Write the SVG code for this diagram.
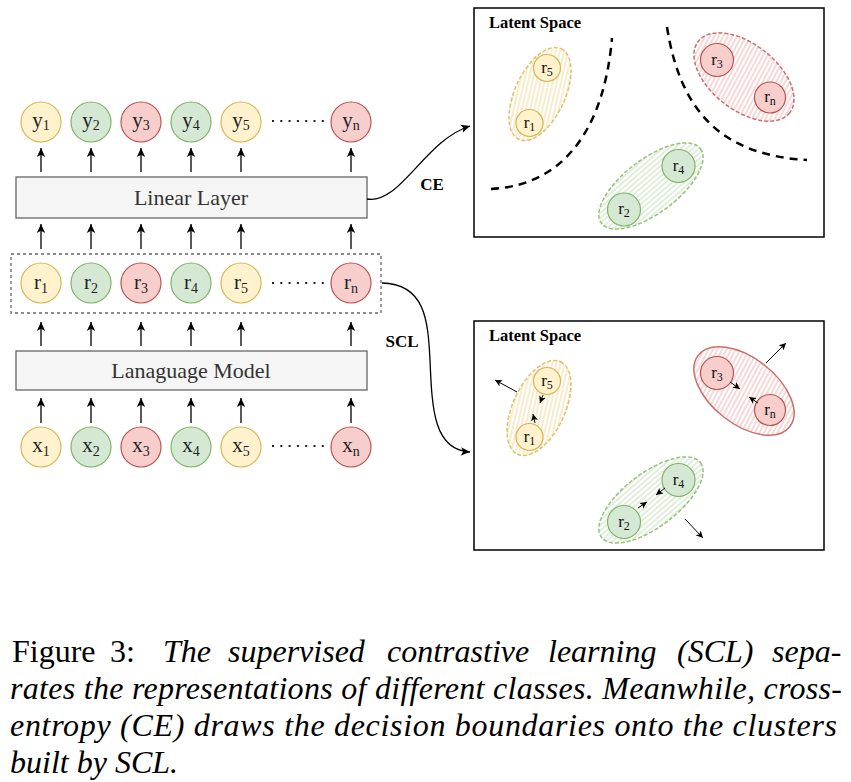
<svg xmlns="http://www.w3.org/2000/svg" width="851" height="782" viewBox="0 0 851 782">
<style>
.lbl{font-family:"Liberation Serif","Times New Roman",serif;font-size:21px;fill:#222;text-anchor:middle}
.sub{font-size:14px}
.slbl{font-family:"Liberation Serif","Times New Roman",serif;font-size:17px;fill:#111;text-anchor:middle}
.ssub{font-size:12px}
.yel{fill:#fff2cc;stroke:#d6b656;stroke-width:1.2}
.grn{fill:#d5e8d4;stroke:#82b366;stroke-width:1.2}
.red{fill:#f8cecc;stroke:#b85450;stroke-width:1.2}
.box{fill:#f5f5f5;stroke:#666;stroke-width:1.3}
.boxt{font-family:"Liberation Serif","Times New Roman",serif;font-size:22px;fill:#333;text-anchor:middle}
.arr{stroke:#000;stroke-width:1.3;fill:none;marker-end:url(#ah)}
.sarr{stroke:#000;stroke-width:1;fill:none;marker-end:url(#sah)}
.dots{stroke:#222;stroke-width:2;stroke-dasharray:2 6.3;fill:none}
.bold{font-family:"Liberation Serif","Times New Roman",serif;font-weight:bold;fill:#000}
.bnd{stroke:#000;stroke-width:2.5;stroke-dasharray:8 6;fill:none}
.cap{font-family:"Liberation Serif","Times New Roman",serif;font-size:32px;fill:#000}
.it{font-style:italic}
</style>
<defs>
<marker id="ah" markerWidth="10" markerHeight="10" refX="9" refY="5" orient="auto" markerUnits="userSpaceOnUse">
<path d="M0,0.8 L9,5 L0,9.2 L2.2,5 Z" fill="#000"/>
</marker>
<marker id="sah" markerWidth="8" markerHeight="8" refX="7" refY="4" orient="auto" markerUnits="userSpaceOnUse">
<path d="M0,0.5 L7,4 L0,7.5 L1.8,4 Z" fill="#000"/>
</marker>
<pattern id="hy" patternUnits="userSpaceOnUse" width="4" height="4" patternTransform="rotate(-12)">
<line x1="0" y1="2" x2="4" y2="2" stroke="#f3d995" stroke-width="1"/>
</pattern>
<pattern id="hr" patternUnits="userSpaceOnUse" width="4" height="4" patternTransform="rotate(80)">
<line x1="0" y1="2" x2="4" y2="2" stroke="#eeb3b0" stroke-width="1"/>
</pattern>
<pattern id="hg" patternUnits="userSpaceOnUse" width="4" height="4" patternTransform="rotate(-4)">
<line x1="0" y1="2" x2="4" y2="2" stroke="#c2dcb8" stroke-width="1"/>
</pattern>
</defs>

<!-- left column boxes -->
<g id="linear-layer">
<rect class="box" x="16" y="177" width="351" height="41"/>
<text class="boxt" x="191" y="205">Linear Layer</text>
</g>
<g id="language-model">
<rect class="box" x="16" y="351" width="351" height="39"/>
<text class="boxt" x="191" y="378">Lanaguage Model</text>
</g>
<g id="repr-group">
<rect x="11" y="254" width="370" height="59" fill="none" stroke="#666" stroke-width="1.3" stroke-dasharray="3 3"/>
</g>

<!-- y nodes -->
<g id="y1"><circle class="yel" cx="41" cy="122" r="20"/><text class="lbl" x="41" y="127">y<tspan class="sub" dy="3">1</tspan></text></g>
<g id="y2"><circle class="grn" cx="91" cy="122" r="20"/><text class="lbl" x="91" y="127">y<tspan class="sub" dy="3">2</tspan></text></g>
<g id="y3"><circle class="red" cx="141" cy="122" r="20"/><text class="lbl" x="141" y="127">y<tspan class="sub" dy="3">3</tspan></text></g>
<g id="y4"><circle class="grn" cx="191" cy="122" r="20"/><text class="lbl" x="191" y="127">y<tspan class="sub" dy="3">4</tspan></text></g>
<g id="y5"><circle class="yel" cx="241" cy="122" r="20"/><text class="lbl" x="241" y="127">y<tspan class="sub" dy="3">5</tspan></text></g>
<g id="yn"><circle class="red" cx="351" cy="122" r="20"/><text class="lbl" x="351" y="127">y<tspan class="sub" dy="3">n</tspan></text></g>

<!-- r nodes -->
<g id="r1"><circle class="yel" cx="41" cy="283" r="20"/><text class="lbl" x="41" y="289">r<tspan class="sub" dy="4">1</tspan></text></g>
<g id="r2"><circle class="grn" cx="91" cy="283" r="20"/><text class="lbl" x="91" y="289">r<tspan class="sub" dy="4">2</tspan></text></g>
<g id="r3"><circle class="red" cx="141" cy="283" r="20"/><text class="lbl" x="141" y="289">r<tspan class="sub" dy="4">3</tspan></text></g>
<g id="r4"><circle class="grn" cx="191" cy="283" r="20"/><text class="lbl" x="191" y="289">r<tspan class="sub" dy="4">4</tspan></text></g>
<g id="r5"><circle class="yel" cx="241" cy="283" r="20"/><text class="lbl" x="241" y="289">r<tspan class="sub" dy="4">5</tspan></text></g>
<g id="rn"><circle class="red" cx="351" cy="283" r="20"/><text class="lbl" x="351" y="289">r<tspan class="sub" dy="4">n</tspan></text></g>

<!-- x nodes -->
<g id="x1"><circle class="yel" cx="41" cy="447" r="20"/><text class="lbl" x="41" y="452">x<tspan class="sub" dy="4">1</tspan></text></g>
<g id="x2"><circle class="grn" cx="91" cy="447" r="20"/><text class="lbl" x="91" y="452">x<tspan class="sub" dy="4">2</tspan></text></g>
<g id="x3"><circle class="red" cx="141" cy="447" r="20"/><text class="lbl" x="141" y="452">x<tspan class="sub" dy="4">3</tspan></text></g>
<g id="x4"><circle class="grn" cx="191" cy="447" r="20"/><text class="lbl" x="191" y="452">x<tspan class="sub" dy="4">4</tspan></text></g>
<g id="x5"><circle class="yel" cx="241" cy="447" r="20"/><text class="lbl" x="241" y="452">x<tspan class="sub" dy="4">5</tspan></text></g>
<g id="xn"><circle class="red" cx="351" cy="447" r="20"/><text class="lbl" x="351" y="452">x<tspan class="sub" dy="4">n</tspan></text></g>

<g id="ellipses-dots">
<line class="dots" x1="272" y1="121" x2="324" y2="121"/>
<line class="dots" x1="272" y1="283" x2="324" y2="283"/>
<line class="dots" x1="272" y1="446" x2="324" y2="446"/>
</g>

<!-- connectors -->
<g id="connectors">
<g id="vertical-arrows">
<line class="arr" x1="41" y1="172" x2="41" y2="148"/>
<line class="arr" x1="91" y1="172" x2="91" y2="148"/>
<line class="arr" x1="141" y1="172" x2="141" y2="148"/>
<line class="arr" x1="191" y1="172" x2="191" y2="148"/>
<line class="arr" x1="241" y1="172" x2="241" y2="148"/>
<line class="arr" x1="351" y1="172" x2="351" y2="148"/>

<line class="arr" x1="41" y1="249" x2="41" y2="224"/>
<line class="arr" x1="91" y1="249" x2="91" y2="224"/>
<line class="arr" x1="141" y1="249" x2="141" y2="224"/>
<line class="arr" x1="191" y1="249" x2="191" y2="224"/>
<line class="arr" x1="241" y1="249" x2="241" y2="224"/>
<line class="arr" x1="351" y1="249" x2="351" y2="224"/>

<line class="arr" x1="41" y1="346" x2="41" y2="322"/>
<line class="arr" x1="91" y1="346" x2="91" y2="322"/>
<line class="arr" x1="141" y1="346" x2="141" y2="322"/>
<line class="arr" x1="191" y1="346" x2="191" y2="322"/>
<line class="arr" x1="241" y1="346" x2="241" y2="322"/>
<line class="arr" x1="351" y1="346" x2="351" y2="322"/>

<line class="arr" x1="41" y1="423" x2="41" y2="398"/>
<line class="arr" x1="91" y1="423" x2="91" y2="398"/>
<line class="arr" x1="141" y1="423" x2="141" y2="398"/>
<line class="arr" x1="191" y1="423" x2="191" y2="398"/>
<line class="arr" x1="241" y1="423" x2="241" y2="398"/>
<line class="arr" x1="351" y1="423" x2="351" y2="398"/>
</g>
<path id="ce-edge" class="arr" d="M367,199 C400,205 425,140 470,126"/>
<text class="bold" x="432" y="190" font-size="17" text-anchor="middle">CE</text>
<path id="scl-edge" class="arr" d="M382,283 C425,284 428,320 430,360 C432,410 434,450 470,452"/>
<text class="bold" x="402" y="347" font-size="17" text-anchor="middle">SCL</text>
</g>

<!-- top latent space -->
<g id="latent-ce">
<rect x="474" y="8" width="350" height="229" fill="#fff" stroke="#000" stroke-width="1.5"/>
<text class="bold" x="489" y="28" font-size="16.5">Latent Space</text>
<path class="bnd" d="M491,189 C570,185 605,120 612,38"/>
<path class="bnd" d="M667,27 C680,110 720,155 807,160"/>
<g id="ce-cluster-yellow">
<ellipse cx="540" cy="94" rx="50" ry="25" transform="rotate(-65 540 94)" fill="url(#hy)" stroke="#e0c06a" stroke-width="1.5" stroke-dasharray="4 2"/>
<circle class="yel" cx="547" cy="68" r="13.5"/><text class="slbl" x="547" y="73">r<tspan class="ssub" dy="3">5</tspan></text>
<circle class="yel" cx="529.5" cy="123" r="13.5"/><text class="slbl" x="529.5" y="128">r<tspan class="ssub" dy="3">1</tspan></text>
</g>
<g id="ce-cluster-red">
<ellipse cx="744" cy="77" rx="58" ry="33" transform="rotate(38 744 77)" fill="url(#hr)" stroke="#c7716d" stroke-width="1.5" stroke-dasharray="4 2"/>
<circle class="red" cx="717" cy="60" r="16.5"/><text class="slbl" x="717" y="65">r<tspan class="ssub" dy="3">3</tspan></text>
<circle class="red" cx="770" cy="97.5" r="15.5"/><text class="slbl" x="770" y="102">r<tspan class="ssub" dy="3">n</tspan></text>
</g>
<g id="ce-cluster-green">
<ellipse cx="651" cy="186" rx="62" ry="27" transform="rotate(-37 651 186)" fill="url(#hg)" stroke="#97c27c" stroke-width="1.5" stroke-dasharray="4 2"/>
<circle class="grn" cx="678.5" cy="166" r="16.5"/><text class="slbl" x="678.5" y="171">r<tspan class="ssub" dy="3">4</tspan></text>
<circle class="grn" cx="624" cy="209.5" r="16.5"/><text class="slbl" x="624" y="214">r<tspan class="ssub" dy="3">2</tspan></text>
</g>
</g>

<!-- bottom latent space -->
<g id="latent-scl">
<rect x="474" y="321" width="350" height="229" fill="#fff" stroke="#000" stroke-width="1.5"/>
<text class="bold" x="489" y="341" font-size="16.5">Latent Space</text>
<g id="scl-cluster-yellow">
<ellipse cx="539" cy="408" rx="51" ry="26" transform="rotate(-65 539 408)" fill="url(#hy)" stroke="#e0c06a" stroke-width="1.5" stroke-dasharray="4 2"/>
<circle class="yel" cx="547" cy="381" r="13.5"/><text class="slbl" x="547" y="386">r<tspan class="ssub" dy="3">5</tspan></text>
<circle class="yel" cx="529.5" cy="437" r="13.5"/><text class="slbl" x="529.5" y="442">r<tspan class="ssub" dy="3">1</tspan></text>
<line class="sarr" x1="543" y1="395" x2="540" y2="403"/>
<line class="sarr" x1="535" y1="423" x2="533" y2="414"/>
<line class="sarr" x1="517" y1="392" x2="495" y2="380"/>
</g>
<g id="scl-cluster-red">
<ellipse cx="744" cy="391" rx="58" ry="33" transform="rotate(38 744 391)" fill="url(#hr)" stroke="#c7716d" stroke-width="1.5"/>
<circle class="red" cx="717" cy="373" r="16.5"/><text class="slbl" x="717" y="378">r<tspan class="ssub" dy="3">3</tspan></text>
<circle class="red" cx="770" cy="410" r="15.5"/><text class="slbl" x="770" y="415">r<tspan class="ssub" dy="3">n</tspan></text>
<line class="sarr" x1="730" y1="382" x2="740" y2="389"/>
<line class="sarr" x1="758" y1="403" x2="749" y2="397"/>
<line class="sarr" x1="766" y1="363" x2="786" y2="343"/>
</g>
<g id="scl-cluster-green">
<ellipse cx="651" cy="500" rx="62" ry="27" transform="rotate(-37 651 500)" fill="url(#hg)" stroke="#97c27c" stroke-width="1.5" stroke-dasharray="4 2"/>
<circle class="grn" cx="678.5" cy="480" r="16.5"/><text class="slbl" x="678.5" y="485">r<tspan class="ssub" dy="3">4</tspan></text>
<circle class="grn" cx="624" cy="522" r="16.5"/><text class="slbl" x="624" y="527">r<tspan class="ssub" dy="3">2</tspan></text>
<line class="sarr" x1="665" y1="488" x2="656" y2="495"/>
<line class="sarr" x1="638" y1="508" x2="647" y2="502"/>
<line class="sarr" x1="685" y1="519" x2="703" y2="538"/>
</g>
</g>

<!-- caption -->
<g id="caption">
<text class="cap" y="662"><tspan x="12">Figure</tspan><tspan x="110">3:</tspan><tspan class="it" x="163">The</tspan><tspan class="it" x="228">supervised</tspan><tspan class="it" x="387">contrastive</tspan><tspan class="it" x="548">learning</tspan><tspan class="it" x="677">(SCL)</tspan><tspan class="it" x="772">sepa-</tspan></text>
<text class="cap it" x="10" y="699" textLength="832" lengthAdjust="spacing">rates the representations of different classes. Meanwhile, cross-</text>
<text class="cap it" x="10" y="736" textLength="827" lengthAdjust="spacing">entropy (CE) draws the decision boundaries onto the clusters</text>
<text class="cap it" x="10" y="773">built by SCL.</text>
</g>
</svg>
